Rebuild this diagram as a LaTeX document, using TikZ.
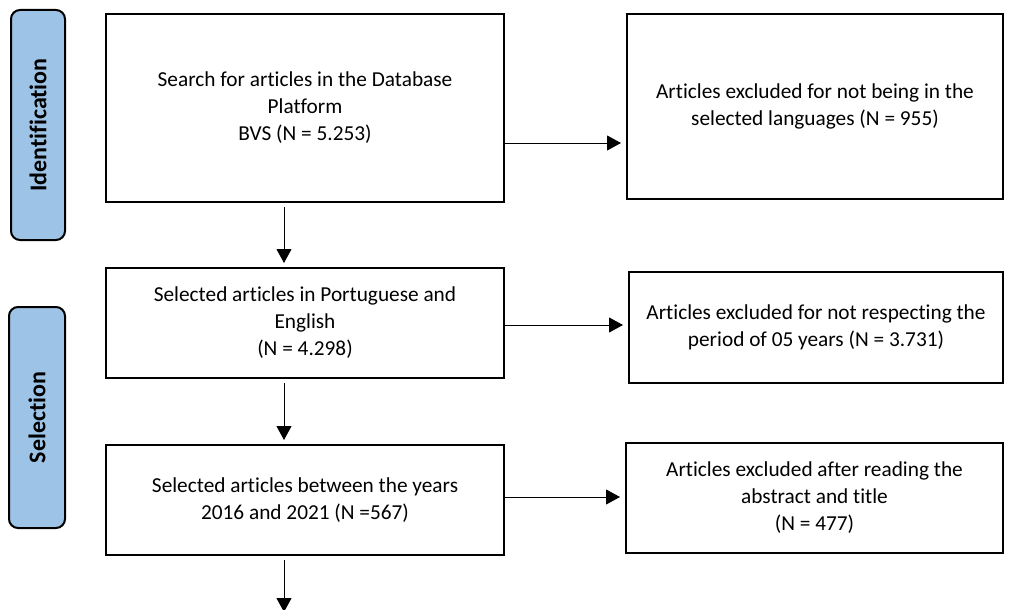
\documentclass[tikz,border=0pt]{standalone}
\usepackage{fontspec}
\setmainfont[Ligatures=NoCommon]{Carlito}
\usetikzlibrary{arrows.meta, calc}
\definecolor{stageblue}{HTML}{9DC3E6}
\tikzset{flowbox/.style = {draw, line width=2pt, align=center, inner sep=4pt, font=\fontsize{21.3}{27}\selectfont}}
\tikzset{sidelabel/.style = {draw, line width=2pt, fill=stageblue, rounded corners=9pt, rotate=90, font=\fontsize{24}{28}\selectfont\bfseries}}
\tikzset{flowarrow/.style = {-{Triangle[length=14pt,width=15pt]}, line width=1pt}}

\begin{document}
\begin{tikzpicture}[x=1pt, y=-1pt]
\useasboundingbox (0,0) rectangle (1013,610);
% stages
\node [sidelabel, minimum width=230pt, minimum height=54pt] (ident) at (38,125) {Identification};
\node [sidelabel, minimum width=221pt, minimum height=56pt] (select) at (37,417.5) {Selection};
% left column
\node [flowbox, minimum width=398pt, minimum height=188pt] (search) at (305,108) {Search for articles in the Database\\ Platform\\ BVS (N = 5.253)};
\node [flowbox, minimum width=398pt, minimum height=110pt] (lang) at (305,323) {Selected articles in Portuguese and\\ English\\ (N = 4.298)};
\node [flowbox, minimum width=398pt, minimum height=110pt] (years) at (305,500) {Selected articles between the years\\ 2016 and 2021 (N =567)};
% right column
\node [flowbox, minimum width=376pt, minimum height=185pt] (exlang) at (815,106.5) {Articles excluded for not being in the\\ selected languages (N = 955)};
\node [flowbox, minimum width=374pt, minimum height=111pt] (exper) at (816,327.5) {Articles excluded for not respecting the\\ period of 05 years (N = 3.731)};
\node [flowbox, minimum width=377pt, minimum height=110pt] (exabs) at (814.5,498) {Articles excluded after reading the\\ abstract and title\\ (N = 477)};
\coordinate (vline) at (284,0);
\coordinate (down) at (284,612);
% arrows
\draw [flowarrow, shorten <=4pt, shorten >=4pt] (search.south -| vline) -- (lang.north -| vline);
\draw [flowarrow, shorten <=4pt, shorten >=4pt] (lang.south -| vline) -- (years.north -| vline);
\draw [flowarrow, shorten <=4pt] (years.south -| vline) -- (down);
\draw [flowarrow, shorten >=5pt] (search.east |- 0,143) -- (exlang.west |- 0,143);
\draw [flowarrow, shorten >=5pt] (lang.east |- 0,325) -- (exper.west |- 0,325);
\draw [flowarrow, shorten >=5pt] (years.east |- 0,497) -- (exabs.west |- 0,497);
\end{tikzpicture}
\end{document}
